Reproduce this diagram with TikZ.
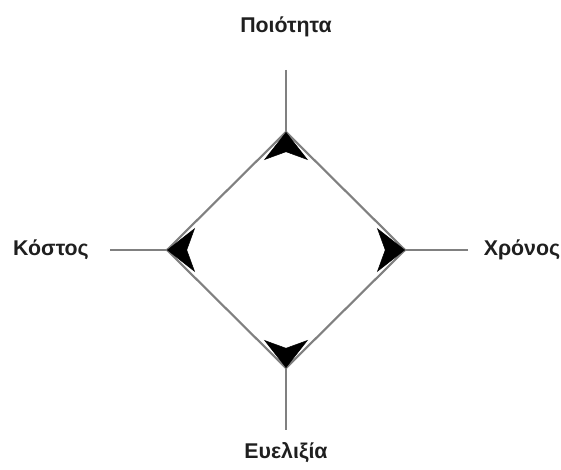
\documentclass[tikz,border=0pt]{standalone}
\usepackage{fontspec}
\setmainfont{Liberation Sans}
\usetikzlibrary{arrows.meta}
\begin{document}
\begin{tikzpicture}[x=0.75pt, y=-0.75pt, every node/.style={font=\bfseries\fontsize{16}{19}\selectfont, text=black!88}]
    \tikzset{edge/.style={draw=black!50, line width=1.6pt},
             tip/.style={-{Stealth[length=21pt, width=33pt, inset=6pt]}, black, line width=0.4pt, shorten <=21pt}}
    \useasboundingbox (0,0) rectangle (561,470);
    \coordinate (top) at (286,132);
    \coordinate (bottom) at (286,368);
    \coordinate (left) at (167,250);
    \coordinate (right) at (405,250);
    \coordinate (topin) at (286,172);
    \coordinate (bottomin) at (286,328);
    \coordinate (leftin) at (207,250);
    \coordinate (rightin) at (365,250);
    \coordinate (topend) at (286,70);
    \coordinate (bottomend) at (286,430);
    \coordinate (leftend) at (110,250);
    \coordinate (rightend) at (468,250);
    \node (quality) at (286,27) {Ποιότητα};
    \node (cost) at (51,250) {Κόστος};
    \node (time) at (522,250) {Χρόνος};
    \node (flex) at (286,453) {Ευελιξία};
    \draw[edge] (topend) -- (top);
    \draw[edge] (bottomend) -- (bottom);
    \draw[edge] (leftend) -- (left);
    \draw[edge] (rightend) -- (right);
    \draw[edge] (top) -- (right) -- (bottom) -- (left) -- cycle;
    \draw[tip] (topin) -- (top);
    \draw[tip] (bottomin) -- (bottom);
    \draw[tip] (leftin) -- (left);
    \draw[tip] (rightin) -- (right);
\end{tikzpicture}
\end{document}
